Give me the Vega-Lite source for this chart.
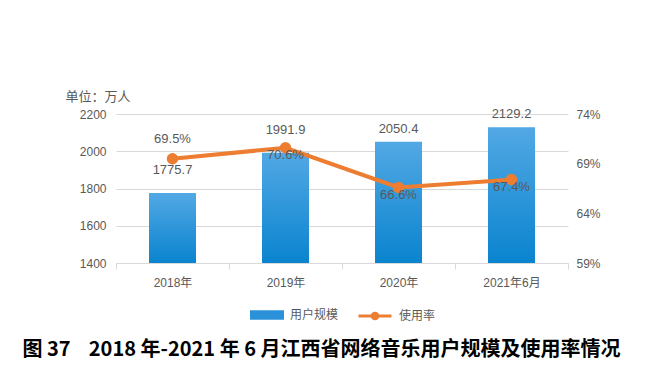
{
  "$schema": "https://vega.github.io/schema/vega-lite/v6.json",
  "width": 452,
  "height": 149,
  "autosize": {"type": "none"},
  "padding": {"left": 116, "top": 114, "right": 96, "bottom": 113},
  "background": "white",
  "config": {
    "view": {"stroke": null},
    "font": "Liberation Sans, Noto Sans CJK SC",
    "axis": {"labelFont": "Liberation Sans, Noto Sans CJK SC", "labelColor": "#595959", "labelFontSize": 12}
  },
  "data": {
    "values": [
      {"period": "2018年", "users": 1775.7, "rate": 69.5, "rlabel": "69.5%"},
      {"period": "2019年", "users": 1991.9, "rate": 70.6, "rlabel": "70.6%"},
      {"period": "2020年", "users": 2050.4, "rate": 66.6, "rlabel": "66.6%"},
      {"period": "2021年6月", "users": 2129.2, "rate": 67.4, "rlabel": "67.4%"}
    ]
  },
  "encoding": {
    "x": {
      "field": "period",
      "type": "nominal",
      "sort": null,
      "scale": {"paddingInner": 0, "paddingOuter": 0},
      "axis": {
        "labelAngle": 0,
        "labelPadding": 8,
        "domainColor": "#d9d9d9",
        "tickColor": "#d9d9d9",
        "tickBand": "extent",
        "tickSize": 6,
        "title": "图 37\u00a0\u00a0\u00a0 2018 年-2021 年 6 月江西省网络音乐用户规模及使用率情况",
        "titleFont": "Noto Sans CJK SC",
        "titleFontSize": 20,
        "titleFontWeight": "bold",
        "titleColor": "#000000",
        "titleX": -94,
        "titleY": 86,
        "titleAlign": "left",
        "titleBaseline": "middle"
      }
    }
  },
  "layer": [
    {
      "encoding": {
        "y": {
          "field": "users",
          "type": "quantitative",
          "scale": {"domain": [1400, 2200], "zero": false},
          "axis": {
            "values": [1400, 1600, 1800, 2000, 2200],
            "format": "d",
            "labelOverlap": false,
            "grid": true,
            "gridColor": "#d9d9d9",
            "domain": false,
            "ticks": false,
            "labelPadding": 10,
            "title": "单位：万人",
            "titleFont": "Noto Sans CJK SC",
            "titleAngle": 0,
            "titleX": -51,
            "titleY": -18,
            "titleAlign": "left",
            "titleBaseline": "middle",
            "titleFontWeight": "normal",
            "titleColor": "#595959",
            "titleFontSize": 13
          }
        }
      },
      "layer": [
        {
          "mark": {"type": "bar", "width": 47},
          "encoding": {
            "y2": {"datum": 1400},
            "fill": {
              "datum": "用户规模",
              "scale": {"range": ["#2B92DA"]},
              "condition": {
                "test": "true",
                "value": {"gradient": "linear", "x1": 0, "y1": 0, "x2": 0, "y2": 1,
                  "stops": [{"offset": 0, "color": "#52A8E4"}, {"offset": 1, "color": "#0A84CF"}]}
              },
              "legend": {
                "orient": "none",
                "legendX": 134,
                "legendY": 184,
                "title": null,
                "symbolType": "M-1,-0.28H1V0.28H-1Z",
                "symbolSize": 1156,
                "symbolStrokeWidth": 0,
                "labelFont": "Noto Sans CJK SC",
                "labelFontSize": 12,
                "labelColor": "#595959",
                "labelOffset": 6
              }
            }
          }
        },
        {
          "transform": [{"filter": {"field": "period", "oneOf": ["2018年", "2019年"]}}],
          "mark": {"type": "text", "baseline": "bottom", "dy": -16, "fontSize": 13, "color": "#595959"},
          "encoding": {
            "text": {"field": "users", "type": "quantitative", "format": ".1f"}
          }
        },
        {
          "transform": [{"filter": {"field": "period", "oneOf": ["2020年", "2021年6月"]}}],
          "mark": {"type": "text", "baseline": "bottom", "dy": -6, "fontSize": 13, "color": "#595959"},
          "encoding": {
            "text": {"field": "users", "type": "quantitative", "format": ".1f"}
          }
        }
      ]
    },
    {
      "encoding": {
        "y": {
          "field": "rate",
          "type": "quantitative",
          "scale": {"domain": [59, 74], "zero": false},
          "axis": {
            "orient": "right",
            "values": [59, 64, 69, 74],
            "labelExpr": "datum.value + '%'",
            "labelOverlap": false,
            "grid": false,
            "domain": false,
            "ticks": false,
            "labelPadding": 8,
            "title": null
          }
        }
      },
      "layer": [
        {
          "mark": {"type": "line", "strokeWidth": 4, "point": {"filled": true, "size": 90, "fill": "#ED7D31"}},
          "encoding": {
            "stroke": {
              "datum": "使用率",
              "scale": {"range": ["#ED7D31"]},
              "legend": {
                "orient": "none",
                "legendX": 241,
                "legendY": 184,
                "title": null,
                "symbolType": "M-1,0H1M-0.17,0A0.17,0.17,0,1,0,0.17,0A0.17,0.17,0,1,0,-0.17,0",
                "symbolSize": 1089,
                "symbolStrokeWidth": 3,
                "symbolFillColor": "#ED7D31",
                "labelFont": "Noto Sans CJK SC",
                "labelFontSize": 12,
                "labelColor": "#595959",
                "labelOffset": 6,
                "encode": {"symbols": {"update": {"fill": {"value": "#ED7D31"}}}}
              }
            }
          }
        },
        {
          "transform": [{"filter": {"field": "period", "equal": "2018年"}}],
          "mark": {"type": "text", "baseline": "middle", "dy": -20, "fontSize": 13, "color": "#595959"},
          "encoding": {
            "text": {"field": "rlabel", "type": "nominal"}
          }
        },
        {
          "transform": [{"filter": {"field": "period", "oneOf": ["2019年", "2020年", "2021年6月"]}}],
          "mark": {"type": "text", "baseline": "middle", "dy": 7, "fontSize": 13, "color": "#595959"},
          "encoding": {
            "text": {"field": "rlabel", "type": "nominal"}
          }
        }
      ]
    }
  ],
  "resolve": {"scale": {"y": "independent"}}
}
